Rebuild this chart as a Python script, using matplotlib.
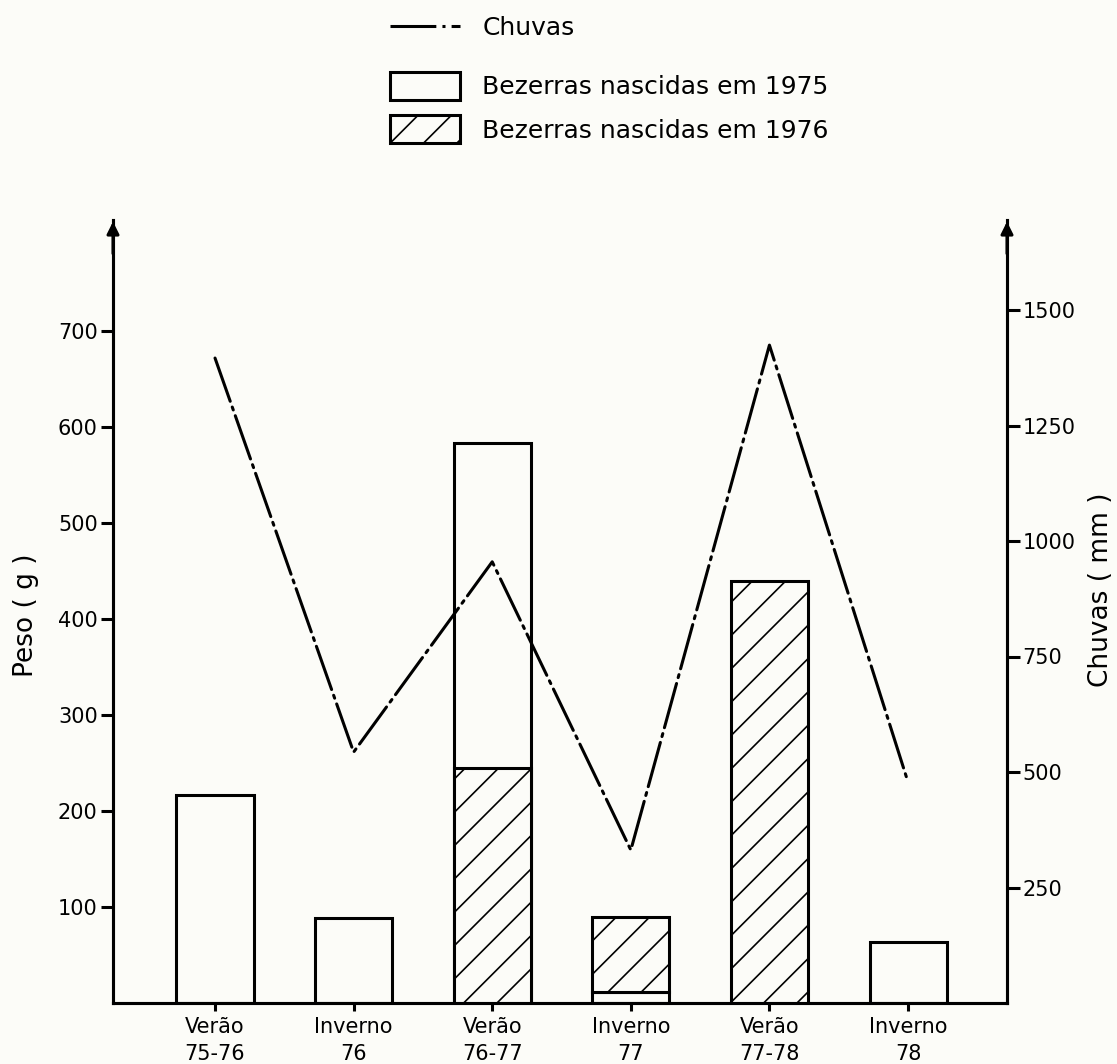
import matplotlib
matplotlib.use('Agg')
import matplotlib.pyplot as plt
from matplotlib.lines import Line2D
from matplotlib.patches import Patch
import numpy as np

# data
categorias = ['Verão\n75-76', 'Inverno\n76', 'Verão\n76-77', 'Inverno\n77', 'Verão\n77-78', 'Inverno\n78']
peso_1975 = [217, 89, 583, 11, 0, 64]      # g, bezerras nascidas em 1975
peso_1976 = [0, 0, 245, 90, 440, 0]        # g, bezerras nascidas em 1976
chuvas = [1396, 543, 955, 331, 1424, 478]  # mm

ticks_peso = [100, 200, 300, 400, 500, 600, 700]
ticks_chuva = [250, 500, 750, 1000, 1250, 1500]

# high dpi so the hatch is as sparse as in the drawing
DPI = 200
W, H = 1117, 1064
plt.rcParams['font.family'] = 'DejaVu Sans'
plt.rcParams['hatch.linewidth'] = 0.6

bg = '#fcfcf8'
fig = plt.figure(figsize=(W / DPI, H / DPI), dpi=DPI, facecolor=bg)
ax = fig.add_axes([113 / W, 1 - 1003 / H, (1007 - 113) / W, (1003 - 220) / H])
ax.set_facecolor(bg)

x = np.arange(len(categorias))
largura = 0.556
lw = 1.1

# white bars (1975)
for xi, v in zip(x, peso_1975):
    if v > 0:
        ax.bar(xi, v, width=largura, color=bg, edgecolor='black', linewidth=lw, zorder=2)

# hatched bars (1976)
for xi, v, b in zip(x, peso_1976, peso_1975):
    if v > 0:
        base = b if b < v else 0
        ax.bar(xi, v - base, bottom=base, width=largura, color=bg, edgecolor='black',
               hatch='//', linewidth=lw, zorder=3)

ax.set_xlim(-0.736, 5.714)
ax.set_ylim(0, 783 / 0.96)
ax.set_xticks(x)
ax.set_xticklabels(categorias, fontsize=7.5, linespacing=1.45)
ax.set_yticks(ticks_peso)
ax.set_yticklabels([str(t) for t in ticks_peso], fontsize=7.5)
ax.tick_params(axis='x', direction='out', length=3, width=lw, pad=2)
ax.tick_params(axis='y', direction='out', length=4.5, width=lw, pad=1)

for s in ['left', 'bottom', 'right']:
    ax.spines[s].set_linewidth(lw)
ax.spines['top'].set_visible(False)

ax2 = ax.twinx()
ax2.set_ylim(0, 783 / 0.462)
ax2.plot(x, chuvas, color='black', linewidth=1.1, dashes=(15, 2, 1, 2),
         solid_capstyle='round', dash_capstyle='round', zorder=5)
ax2.set_yticks(ticks_chuva)
ax2.set_yticklabels([str(t) for t in ticks_chuva], fontsize=7.5)
ax2.tick_params(axis='y', direction='out', length=4.5, width=lw, pad=1)
for s in ['left', 'bottom', 'right']:
    ax2.spines[s].set_linewidth(lw)
ax2.spines['top'].set_visible(False)

# arrows on top of both vertical axes
for xa in [0, 1]:
    ax.annotate('', xy=(xa, 1.005), xytext=(xa, 0.95), xycoords='axes fraction',
                arrowprops=dict(arrowstyle='-|>', color='black', lw=lw, mutation_scale=9),
                annotation_clip=False)

fig.text(26 / W, 1 - 615 / H, 'Peso ( g )', rotation=90, ha='center', va='center', fontsize=9.5)
fig.text(1101 / W, 1 - 590 / H, 'Chuvas ( mm )', rotation=90, ha='center', va='center', fontsize=9.5)

# legends
h_chuva = [Line2D([0], [0], color='black', linewidth=1.1, dashes=(15, 2, 1, 2))]
leg1 = fig.legend(h_chuva, ['Chuvas'], loc='upper left', bbox_to_anchor=(390 / W, 1 - 16 / H),
                  frameon=False, fontsize=9, handlelength=2.8, handletextpad=0.9,
                  borderpad=0, borderaxespad=0)
h_bar = [Patch(facecolor=bg, edgecolor='black', linewidth=lw),
         Patch(facecolor=bg, edgecolor='black', linewidth=lw, hatch='//')]
leg2 = fig.legend(h_bar, ['Bezerras nascidas em 1975', 'Bezerras nascidas em 1976'],
                  loc='upper left', bbox_to_anchor=(390 / W, 1 - 72 / H),
                  frameon=False, fontsize=9, handlelength=2.8, handleheight=1.36,
                  handletextpad=0.9, labelspacing=0.6, borderpad=0, borderaxespad=0)

fig.savefig('out.png', dpi=DPI, facecolor=bg)
